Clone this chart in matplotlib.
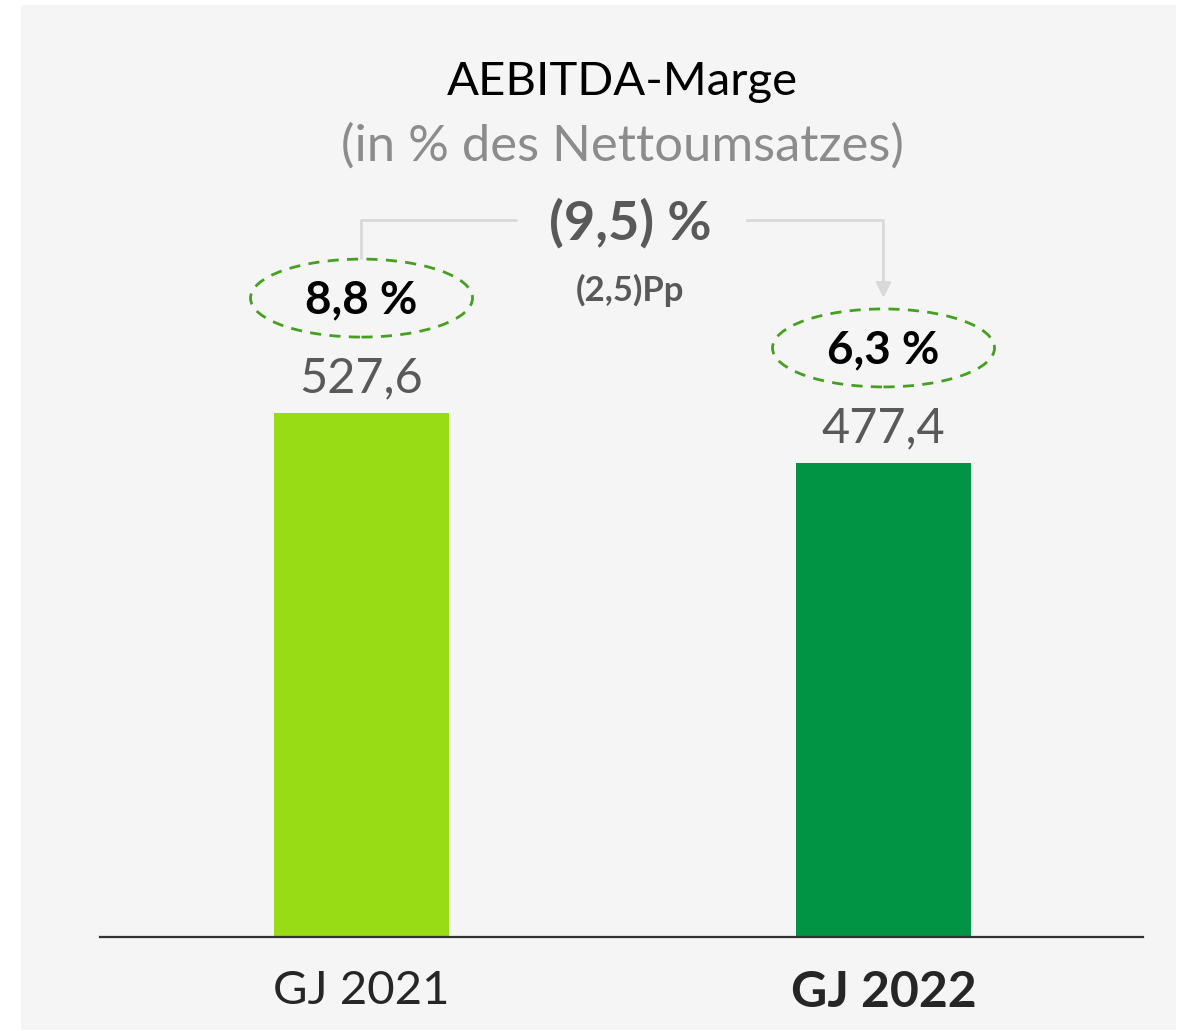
import matplotlib
matplotlib.use("Agg")
import matplotlib.pyplot as plt
from matplotlib.patches import Rectangle, Ellipse

# ---- data ----
categories = ["GJ 2021", "GJ 2022"]
values = [527.6, 477.4]
value_labels = ["527,6", "477,4"]
margins = ["8,8 %", "6,3 %"]
change_main = "(9,5) %"
change_pp = "(2,5)Pp"
title = "AEBITDA-Marge"
subtitle = "(in % des Nettoumsatzes)"
bar_colors = ["#97dc14", "#009444"]

plt.rcParams['font.family'] = ['Lato', 'DejaVu Sans']

W, H = 1186, 1031
fig = plt.figure(figsize=(W / 100, H / 100), dpi=100)
fig.patch.set_facecolor("white")

def fx(px):
    return px / W

def fy(py):
    return 1 - py / H

# panel background
fig.patches.append(Rectangle((fx(21), fy(1030)), fx(1176) - fx(21), fy(5) - fy(1030),
                             transform=fig.transFigure, facecolor="#f5f5f5",
                             edgecolor="none", zorder=-5))

# axes geometry (pixels)
ax_left, ax_right, ax_base, ax_top = 100, 1143, 937, 5
ax = fig.add_axes([fx(ax_left), fy(ax_base), fx(ax_right) - fx(ax_left), fy(ax_top) - fy(ax_base)])
ax.set_zorder(2)
ax.patch.set_alpha(0)
px_per_unit_y = 0.993
ax.set_ylim(0, (ax_base - ax_top) / px_per_unit_y)
c0, c1 = 361.5, 883.5
px_per_unit_x = c1 - c0
ax.set_xlim(-(c0 - ax_left) / px_per_unit_x, 1 + (ax_right - c1) / px_per_unit_x)

x = list(range(len(categories)))
ax.bar(x, values, width=175 / px_per_unit_x, color=bar_colors, zorder=2)

for s in ["top", "right", "left"]:
    ax.spines[s].set_visible(False)
ax.spines["bottom"].set_color("#333333")
ax.spines["bottom"].set_linewidth(1.6)
ax.spines["bottom"].set_zorder(3)
ax.set_yticks([])
ax.set_xticks(x)
ax.set_xticklabels(categories)
ax.tick_params(axis="x", length=0, pad=24, labelsize=34, labelcolor="#262626")
lbl = ax.get_xticklabels()
lbl[1].set_fontweight("bold")
lbl[1].set_fontsize(36)

def up(v, px):
    return v + px / px_per_unit_y

for i, v in enumerate(values):
    ax.text(i, up(v, 35), value_labels[i], ha="center", va="center",
            fontsize=35, color="#595959")
    ax.add_patch(Ellipse((i, up(v, 115)), 222 / px_per_unit_x, 78 / px_per_unit_y,
                         fill=False, edgecolor="#45a01f", linewidth=2,
                         linestyle=(0, (4, 3)), zorder=3))
    ax.text(i, up(v, 113), margins[i], ha="center", va="center",
            fontsize=33, fontweight="bold", color="black")

# connector lines
yline = (ax_base - 220) / px_per_unit_y
x_left_end = (517 - c0) / px_per_unit_x
x_right_start = (747 - c0) / px_per_unit_x
top0 = up(values[0], 115) + 39 / px_per_unit_y
ax.plot([0, 0, x_left_end], [top0, yline, yline], color="#d9d9d9", lw=2, solid_capstyle="butt", zorder=1)
tip = (ax_base - 298) / px_per_unit_y
ax.plot([x_right_start, 1, 1], [yline, yline, tip + 12], color="#d9d9d9", lw=2, zorder=1)
ax.annotate("", xy=(1, tip), xytext=(1, tip + 16),
            arrowprops=dict(arrowstyle="-|>,head_length=0.9,head_width=0.45",
                            color="#d9d9d9", lw=2, shrinkA=0, shrinkB=0))

# headings
fig.text(fx(622), fy(82), title, ha="center", va="center", fontsize=34, color="black")
fig.text(fx(622), fy(146), subtitle, ha="center", va="center", fontsize=36.5, color="#8c8c8c")
fig.text(fx(630), fy(223), change_main, ha="center", va="center", fontsize=39,
         fontweight="bold", color="#595959")
fig.text(fx(630), fy(290), change_pp, ha="center", va="center", fontsize=25,
         fontweight="bold", color="#595959")

fig.savefig("out.png", dpi=100, facecolor="white")
